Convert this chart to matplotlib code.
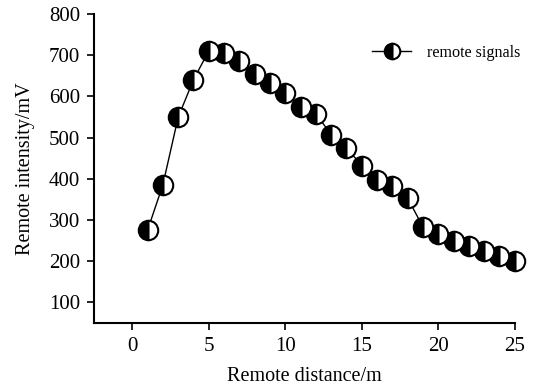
import matplotlib
matplotlib.use("Agg")
import matplotlib.pyplot as plt

distance = list(range(1, 26))
intensity = [275, 385, 549, 640, 710, 705, 685, 655, 632, 608, 575, 558, 507,
             475, 432, 397, 382, 353, 283, 265, 248, 237, 225, 212, 200]
xticks = [0, 5, 10, 15, 20, 25]
yticks = [100, 200, 300, 400, 500, 600, 700, 800]

plt.rcParams['font.family'] = ['Liberation Serif', 'DejaVu Serif']

fig = plt.figure(figsize=(5.34, 3.85), dpi=100)
ax = fig.add_axes([0.176, 0.161, 0.788, 0.803])
ax.plot(distance, intensity, color='black', linewidth=1.0,
        marker='o', markersize=14, fillstyle='left',
        markerfacecolor='black', markerfacecoloralt='white',
        markeredgecolor='black', markeredgewidth=1.5,
        label='remote signals', clip_on=False)
ax.set_xlim(-2.5, 25)
ax.set_ylim(50, 800)
ax.set_xticks(xticks)
ax.set_yticks(yticks)
ax.spines['top'].set_visible(False)
ax.spines['right'].set_visible(False)
ax.spines['left'].set_linewidth(1.5)
ax.spines['bottom'].set_linewidth(1.5)
ax.tick_params(direction='out', length=5, width=1.2, labelsize=15, colors='black', pad=5)
ax.set_xlabel('Remote distance/m', fontsize=14.5, labelpad=8)
ax.set_ylabel('Remote intensity/mV', fontsize=14.5, labelpad=10)
leg = ax.legend(loc='center right', frameon=False, fontsize=11.6,
                markerscale=0.8, handlelength=2.4, handletextpad=1.0,
                bbox_to_anchor=(1.048, 0.873))
fig.savefig('out.png', dpi=100)
